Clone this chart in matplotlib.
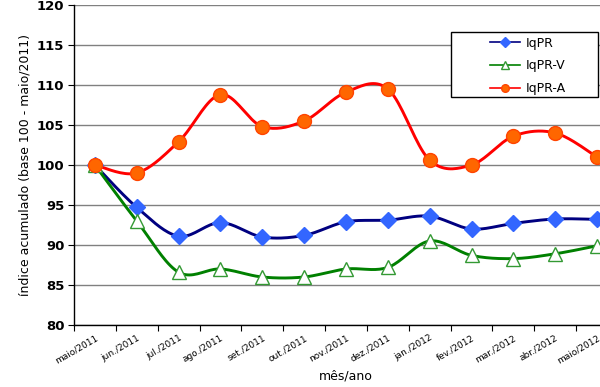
import numpy as np
import matplotlib
matplotlib.use('Agg')
import matplotlib.pyplot as plt
from matplotlib.ticker import FixedLocator, NullFormatter
from matplotlib.patches import Rectangle

meses = ['maio/2011', 'jun./2011', 'jul./2011', 'ago./2011', 'set./2011', 'out./2011',
         'nov./2011', 'dez./2011', 'jan./2012', 'fev./2012', 'mar./2012', 'abr./2012',
         'maio/2012']
iqpr = [100, 94.7, 91.1, 92.8, 91.0, 91.2, 92.9, 93.1, 93.6, 92.0, 92.7, 93.25, 93.2]
iqpr_v = [100, 93.0, 86.6, 87.0, 86.0, 86.0, 87.0, 87.2, 90.5, 88.7, 88.3, 88.9, 89.9]
iqpr_a = [100, 99.0, 102.9, 108.8, 104.8, 105.5, 109.1, 109.5, 100.6, 100.0, 103.6, 104.0, 101.0]


def suave(x, y, n=20):
    # curva suavizada tipo Excel (Catmull-Rom) so para o tracado da linha
    x = np.asarray(x, float)
    y = np.asarray(y, float)
    xs, ys = [], []
    for i in range(len(x) - 1):
        p0 = (x[max(i - 1, 0)], y[max(i - 1, 0)])
        p1 = (x[i], y[i])
        p2 = (x[i + 1], y[i + 1])
        p3 = (x[min(i + 2, len(x) - 1)], y[min(i + 2, len(x) - 1)])
        c1 = (p1[0] + (p2[0] - p0[0]) / 6, p1[1] + (p2[1] - p0[1]) / 6)
        c2 = (p2[0] - (p3[0] - p1[0]) / 6, p2[1] - (p3[1] - p1[1]) / 6)
        t = np.linspace(0, 1, n, endpoint=False)
        b = [(1 - t) ** 3, 3 * (1 - t) ** 2 * t, 3 * (1 - t) * t ** 2, t ** 3]
        xs.append(b[0] * p1[0] + b[1] * c1[0] + b[2] * c2[0] + b[3] * p2[0])
        ys.append(b[0] * p1[1] + b[1] * c1[1] + b[2] * c2[1] + b[3] * p2[1])
    xs.append([x[-1]])
    ys.append([y[-1]])
    return np.concatenate(xs), np.concatenate(ys)


fig = plt.figure(figsize=(6, 3.87), dpi=100)
ax = fig.add_axes([0.1233, 0.1602, 0.9067, 0.827])

x = np.arange(len(meses))
series = [
    ('IqPR', iqpr, '#000080', dict(marker='D', ms=8.5, mfc='#3366FF', mec='#3366FF')),
    ('IqPR-V', iqpr_v, '#008000', dict(marker='^', ms=10, mfc='white', mec='#339933', mew=1)),
    ('IqPR-A', iqpr_a, '#FF0000', dict(marker='o', ms=10, mfc='#FF6600', mec='#FF4400', mew=1)),
]
handles = []
for nome, vals, cor, mk in series:
    sx, sy = suave(x, vals)
    ax.plot(sx, sy, color=cor, lw=2.1, zorder=3)
    ax.plot(x, vals, ls='none', zorder=4, clip_on=False, **mk)
    hmk = dict(mk)
    hmk['ms'] = mk['ms'] * 0.55
    h, = ax.plot([], [], color=cor, lw=1.2, **hmk)
    handles.append(h)

ax.set_xlim(-0.5, len(meses) - 0.5)
ax.set_ylim(80, 120)
ax.set_yticks(np.arange(80, 121, 5))
ax.yaxis.grid(True, color='#808080', lw=1)
ax.set_axisbelow(True)
for s in ['top', 'right']:
    ax.spines[s].set_visible(False)
ax.spines['left'].set_linewidth(1)
ax.spines['bottom'].set_linewidth(1)

ax.xaxis.set_major_locator(FixedLocator(np.arange(-0.5, len(meses), 1)))
ax.xaxis.set_major_formatter(NullFormatter())
ax.xaxis.set_minor_locator(FixedLocator(x))
ax.set_xticklabels(meses, minor=True, rotation=30, ha='right', rotation_mode='anchor', fontsize=6.5)
ax.tick_params(axis='x', which='minor', length=0, pad=6)
ax.tick_params(axis='x', which='major', length=4, direction='out')
ax.tick_params(axis='y', length=4, direction='out', labelsize=9.5, pad=3)
for lb in ax.get_yticklabels():
    lb.set_fontweight('bold')

ax.set_ylabel('índice acumulado (base 100 - maio/2011)', fontsize=9, labelpad=4)
ax.set_xlabel('mês/ano', fontsize=9, labelpad=3)

# caixa da legenda desenhada a parte (mais larga que o conteudo)
W, H = 600, 387
ax.add_patch(Rectangle((451 / W, 1 - 97 / H), 147 / W, 65 / H, transform=fig.transFigure,
                       facecolor='white', edgecolor='black', lw=1, zorder=5, clip_on=False))
leg = ax.legend(handles, ['IqPR', 'IqPR-V', 'IqPR-A'], loc='upper left',
                bbox_to_anchor=(486 / W, 1 - 33 / H), bbox_transform=fig.transFigure,
                frameon=False, fontsize=9, handlelength=2.4, handletextpad=0.5,
                borderpad=0.3, labelspacing=0.78, borderaxespad=0)
leg.set_zorder(6)

fig.savefig('out.png', dpi=100)
